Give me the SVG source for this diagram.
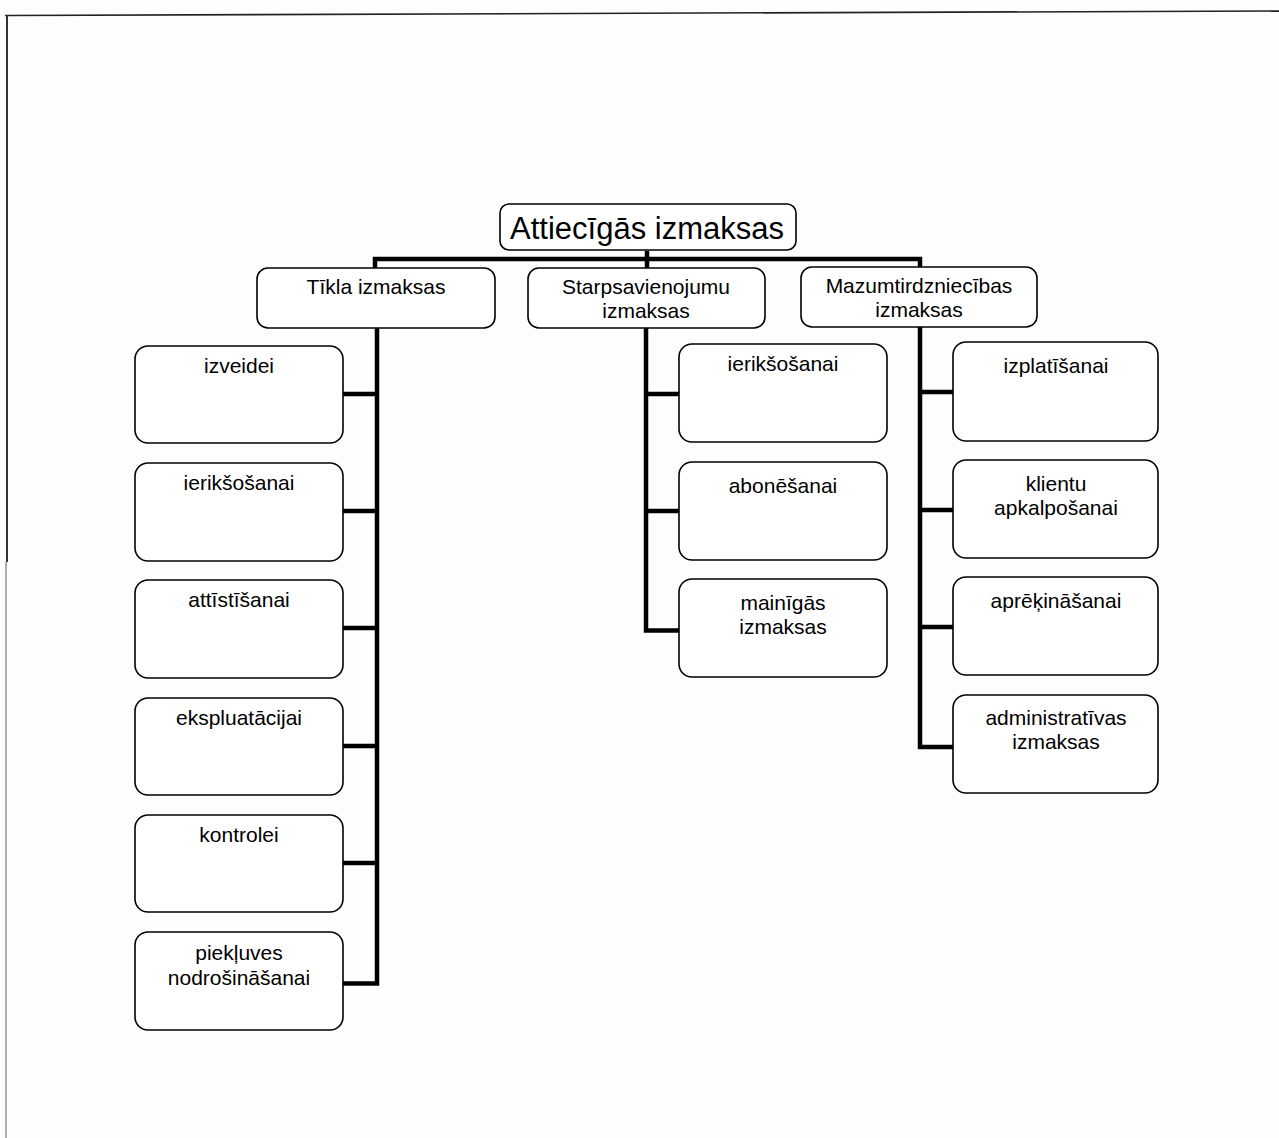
<svg xmlns="http://www.w3.org/2000/svg" width="1279" height="1138" viewBox="0 0 1279 1138">
<style>
.box{fill:#fff;stroke:#000;stroke-width:1.6}
.t{font-family:"Liberation Sans",Arial,sans-serif;font-size:21px;fill:#000;text-anchor:middle}
.root{font-size:31px}
.c{fill:none;stroke:#000;stroke-width:4.5;stroke-linejoin:miter}
</style>
<rect x="0" y="0" width="1279" height="1138" fill="#fdfdfd"/>
<g id="frame">
<line x1="5" y1="15.5" x2="1279" y2="11" stroke="#222" stroke-width="1.6"/>
<line x1="7" y1="15" x2="7" y2="562" stroke="#333" stroke-width="2"/>
<line x1="6" y1="562" x2="6" y2="1138" stroke="#777" stroke-width="1.2"/>
</g>
<g id="connectors">
<path class="c" d="M647,251 V270"/>
<path class="c" d="M375,268 V259 H920 V267"/>
<path class="c" d="M377,328 V983.5 H343"/>
<path class="c" d="M343,394 H377 M343,511 H377 M343,628 H377 M343,746 H377 M343,863 H377"/>
<path class="c" d="M646,328 V630.5 H679"/>
<path class="c" d="M646,394 H679 M646,511 H679"/>
<path class="c" d="M920,327 V747 H953"/>
<path class="c" d="M920,392 H953 M920,510 H953 M920,627 H953"/>
</g>
<g id="root"><rect class="box" x="500" y="204" width="296" height="46" rx="9"/><text class="t root" x="647" y="239">Attiecīgās izmaksas</text></g>
<g id="tikla"><rect class="box" x="257" y="268" width="238" height="60" rx="11"/><text class="t" x="376" y="294">Tīkla izmaksas</text></g>
<g id="starp"><rect class="box" x="528" y="268" width="237" height="60" rx="11"/><text class="t" x="646" y="294">Starpsavienojumu</text><text class="t" x="646" y="318">izmaksas</text></g>
<g id="mazum"><rect class="box" x="801" y="267" width="236" height="60" rx="11"/><text class="t" x="919" y="293">Mazumtirdzniecības</text><text class="t" x="919" y="317">izmaksas</text></g>

<g id="l1"><rect class="box" x="135" y="346" width="208" height="97" rx="13"/><text class="t" x="239" y="373">izveidei</text></g>
<g id="l2"><rect class="box" x="135" y="463" width="208" height="98" rx="13"/><text class="t" x="239" y="490">ierikšošanai</text></g>
<g id="l3"><rect class="box" x="135" y="580" width="208" height="98" rx="13"/><text class="t" x="239" y="607">attīstīšanai</text></g>
<g id="l4"><rect class="box" x="135" y="698" width="208" height="97" rx="13"/><text class="t" x="239" y="725">ekspluatācijai</text></g>
<g id="l5"><rect class="box" x="135" y="815" width="208" height="97" rx="13"/><text class="t" x="239" y="842">kontrolei</text></g>
<g id="l6"><rect class="box" x="135" y="932" width="208" height="98" rx="13"/><text class="t" x="239" y="960">piekļuves</text><text class="t" x="239" y="985">nodrošināšanai</text></g>

<g id="m1"><rect class="box" x="679" y="344" width="208" height="98" rx="13"/><text class="t" x="783" y="371">ierikšošanai</text></g>
<g id="m2"><rect class="box" x="679" y="462" width="208" height="98" rx="13"/><text class="t" x="783" y="493">abonēšanai</text></g>
<g id="m3"><rect class="box" x="679" y="579" width="208" height="98" rx="13"/><text class="t" x="783" y="610">mainīgās</text><text class="t" x="783" y="634">izmaksas</text></g>

<g id="r1"><rect class="box" x="953" y="342" width="205" height="99" rx="13"/><text class="t" x="1056" y="373">izplatīšanai</text></g>
<g id="r2"><rect class="box" x="953" y="460" width="205" height="98" rx="13"/><text class="t" x="1056" y="491">klientu</text><text class="t" x="1056" y="515">apkalpošanai</text></g>
<g id="r3"><rect class="box" x="953" y="577" width="205" height="98" rx="13"/><text class="t" x="1056" y="608">aprēķināšanai</text></g>
<g id="r4"><rect class="box" x="953" y="695" width="205" height="98" rx="13"/><text class="t" x="1056" y="725">administratīvas</text><text class="t" x="1056" y="749">izmaksas</text></g>
</svg>
